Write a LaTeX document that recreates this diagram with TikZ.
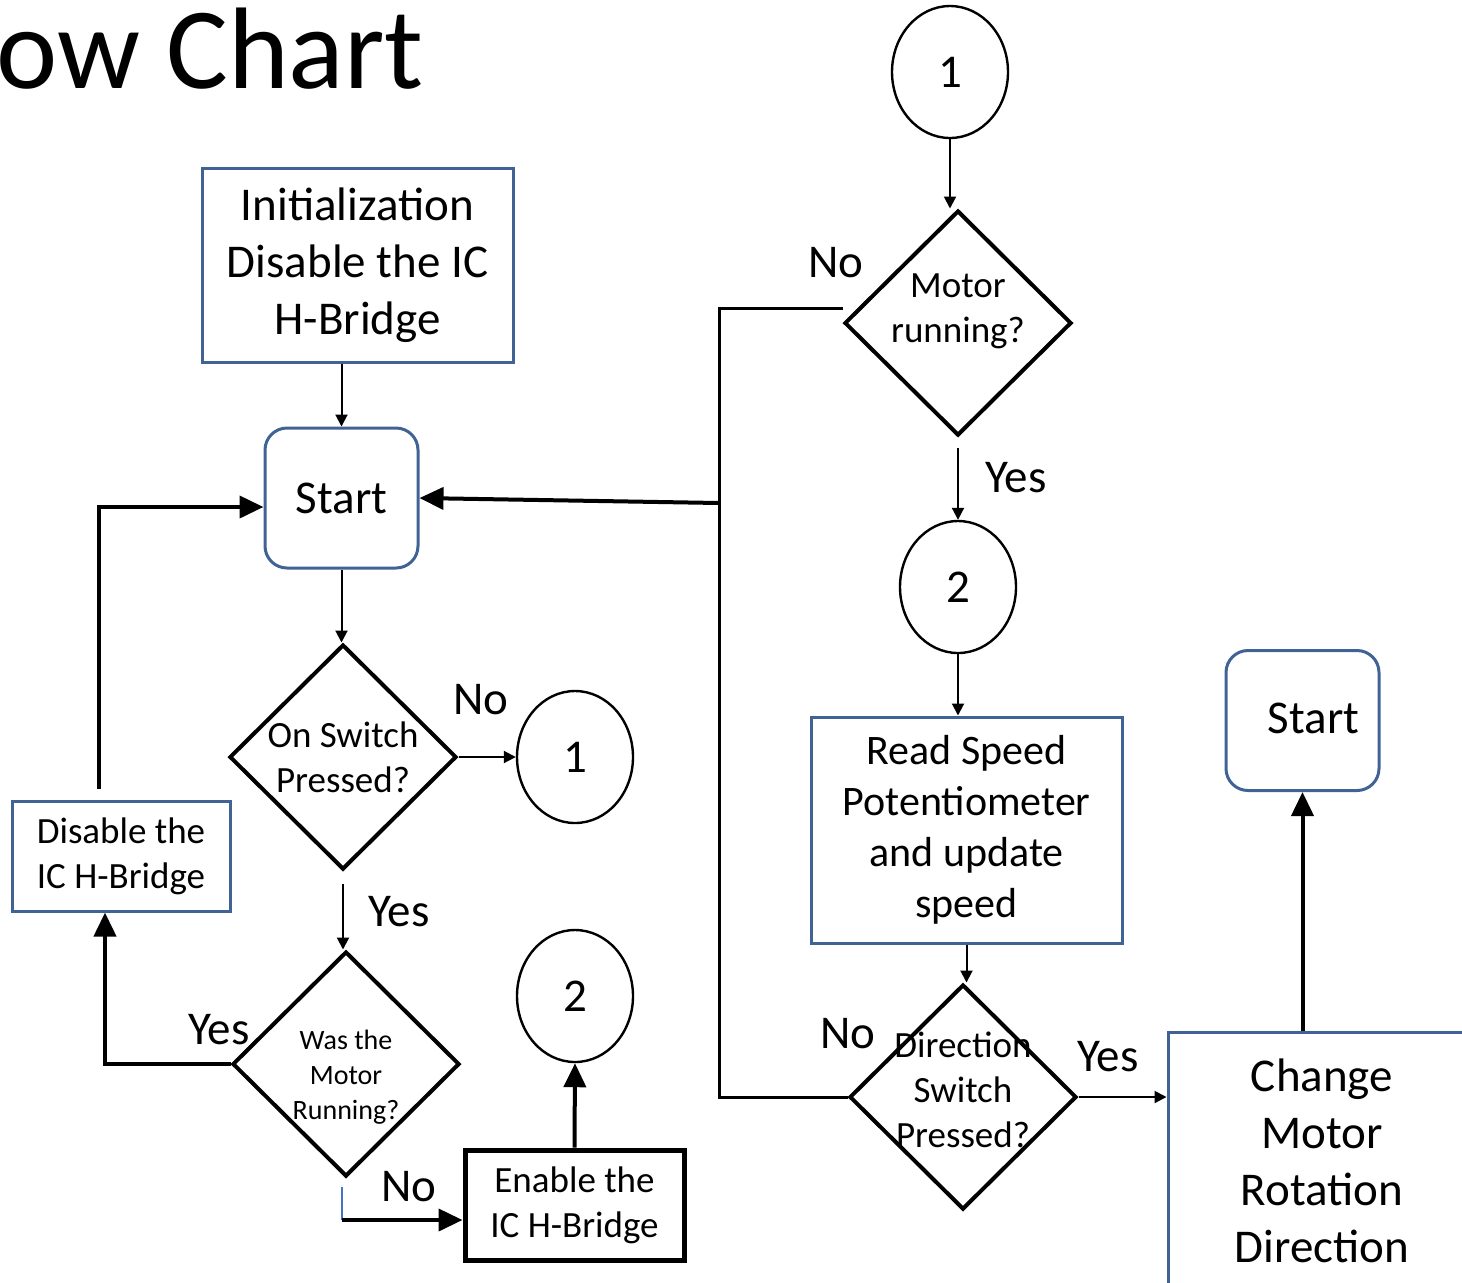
\documentclass[tikz,border=0pt]{standalone}
\usepackage{fontspec}
\setmainfont{Carlito}
\usetikzlibrary{arrows.meta,shapes.geometric,positioning}
\definecolor{BoxBlue}{RGB}{64,98,148}
\definecolor{StubBlue}{RGB}{68,114,196}
\newcommand\DiamondText[2][0pt]{\raisebox{#1}[\height][\depth]{\makebox[0pt]{\begin{tabular}{@{}c@{}}#2\end{tabular}}}}

\begin{document}
\begin{tikzpicture}
  [x=0.5pt, y=-0.5pt,
   big font/.style={font=\fontsize{23.5}{28.5}\selectfont},
   mid font/.style={font=\fontsize{21}{25.5}\selectfont},
   small font/.style={font=\fontsize{18.5}{22.5}\selectfont},
   tiny font/.style={font=\fontsize{14}{17.5}\selectfont},
   process/.style={draw=BoxBlue, line width=1.5pt, rectangle, align=center, inner sep=0pt},
   terminal/.style={process, rounded corners=11pt, minimum width=76.5pt, minimum height=70pt, big font},
   decision/.style={draw, line width=2pt, diamond, inner sep=0pt, minimum width=113.5pt, minimum height=112.5pt, small font},
   connector/.style={draw, line width=1.2pt, ellipse, minimum width=58pt, minimum height=66pt, big font},
   label text/.style={big font, inner sep=0pt},
   edge/.style={line width=1pt, -{Triangle[length=6pt,width=6pt]}},
   thick edge/.style={line width=2pt, -{Triangle[length=12pt,width=11pt]}},
   route/.style={line width=1.5pt},
   stub/.style={draw=StubBlue, line width=1pt}]

  \useasboundingbox (0,0) rectangle (1462,1282);
  \clip (0,0) rectangle (1462,1282);

  \node [anchor=base west, inner sep=0pt, font=\fontsize{58}{70}\selectfont] (title) at (-4,88) {ow Chart};

  % left column
  \node [process, big font, minimum width=155.5pt, minimum height=97pt] (init) at (357.5,265) {Initialization\\Disable the IC\\H-Bridge};
  \node [terminal] (start) at (341.5,498) {Start};
  \node [decision] (on-switch) at (343,757) {\DiamondText[-2pt]{On Switch\\Pressed?}};
  \node [connector] (to-one) at (575,757) {1};
  \node [decision, tiny font] (was-running) at (346,1064) {\DiamondText[-6.5pt]{Was the\\Motor\\Running?}};
  \node [connector] (to-two) at (575,996) {2};
  \node [process, small font, minimum width=109pt, minimum height=55pt] (disable) at (121,856) {Disable the\\IC H-Bridge};
  \node [process, draw=black, line width=2.5pt, small font, minimum width=109.5pt, minimum height=55pt] (enable) at (574.5,1205) {Enable the\\IC H-Bridge};

  % right column
  \node [connector] (from-one) at (950,72) {1};
  \node [decision] (running) at (958,323) {\DiamondText[6pt]{Motor\\running?}};
  \node [connector] (from-two) at (958,587) {2};
  \node [process, mid font, minimum width=155.5pt, minimum height=113pt] (read) at (966.5,830) {Read Speed\\Potentiometer\\and update\\speed};
  \node [decision] (direction) at (963,1097) {\DiamondText[2pt]{Direction\\Switch\\Pressed?}};
  \node [process, big font, minimum width=154pt, minimum height=129pt] (change) at (1322,1161) {Change\\Motor\\Rotation\\Direction};
  \node [terminal] (restart) at (1302.5,720.5) {\hspace*{11pt}\raisebox{2.5pt}{Start}};

  \node [label text] (on-no) at (481,700) {No};
  \node [label text] (on-yes) at (399,912) {Yes};
  \node [label text] (was-yes) at (219,1030) {Yes};
  \node [label text] (was-no) at (409,1187) {No};
  \node [label text] (running-no) at (836,263) {No};
  \node [label text] (running-yes) at (1016,478) {Yes};
  \node [label text] (direction-no) at (848,1034) {No};
  \node [label text] (direction-yes) at (1108,1057) {Yes};

  \draw [edge] (init.south -| start.north) -- (start.north);
  \draw [edge] (start.south) -- (start.south |- on-switch.north);
  \draw [edge] (on-switch.east) -- (to-one.west);
  \draw [edge] ([yshift=-6pt]on-switch.south) -- (on-switch.south |- was-running.north);
  \draw [thick edge] (was-running.west) -| ([xshift=-8pt]disable.south);
  \draw [thick edge] ([xshift=-11pt, yshift=5.5pt]disable.north) |- ([yshift=-4.5pt]start.west);

  \coordinate (was-out) at (342,1220);
  \draw [stub] (was-running.south -| was-out) ++(0,8) -- (was-out);
  \draw [thick edge] (was-out) -- (was-out -| enable.west);
  \draw [thick edge] (enable.north) -- (to-two.south);

  \draw [edge] (from-one.south) -- (from-one.south |- running.north);
  \coordinate (back) at (719,503);
  \draw [route] ([yshift=7.5pt]running.west) -| (back);
  \draw [route] (direction.west) -| (back);
  \draw [thick edge] (back) -- (start.east);
  \draw [edge] ([yshift=-5pt]running.south) -- (from-two.north);
  \draw [edge] (from-two.south) -- (from-two.south |- read.north);
  \draw [edge] (read.south) -- (read.south |- direction.north);
  \draw [edge] (direction.east) -- (direction.east -| change.west);
  \draw [thick edge] (change.north -| restart.south) -- (restart.south);
\end{tikzpicture}
\end{document}
